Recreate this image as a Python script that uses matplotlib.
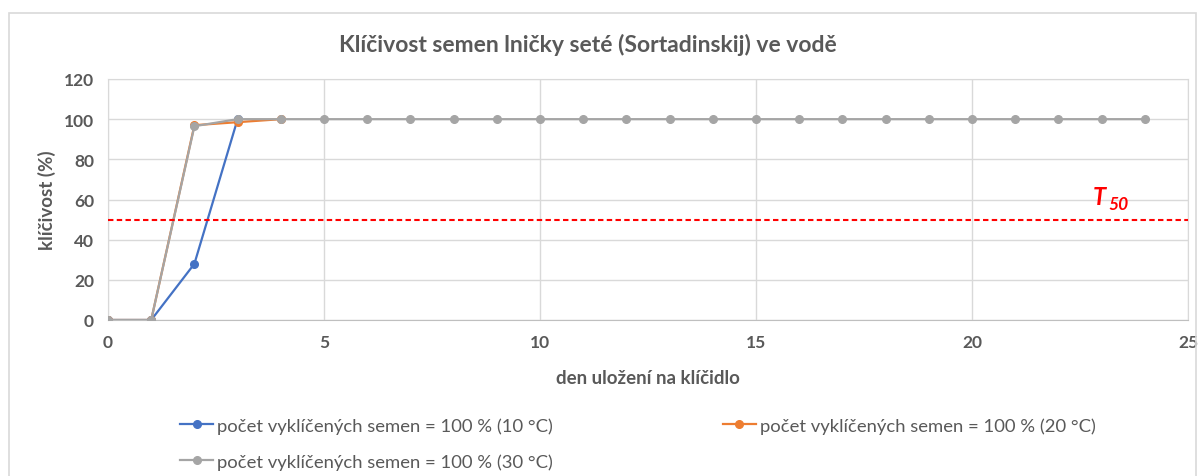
import matplotlib.pyplot as plt
from matplotlib.patches import Rectangle
from matplotlib.lines import Line2D

plt.rcParams['font.family'] = ['Lato', 'DejaVu Sans']

# ── data ─────────────────────────────────────────────────────────
days_10 = [0, 1, 2, 3]
germ_10 = [0, 0, 28, 100]
days_20 = [0, 1, 2, 3, 4]
germ_20 = [0, 0, 97, 98.5, 100]
days_30 = list(range(0, 25))
germ_30 = [0, 0, 96.5] + [100] * 22
labels = ["počet vyklíčených semen = 100 % (10 °C)",
          "počet vyklíčených semen = 100 % (20 °C)",
          "počet vyklíčených semen = 100 % (30 °C)"]
t50 = 50

C_BLUE = "#4472C4"
C_ORANGE = "#ED7D31"
C_GRAY = "#A5A5A5"
C_TEXT = "#595959"
C_GRID = "#D9D9D9"

fig = plt.figure(figsize=(12.04, 4.77), dpi=100)
ax = fig.add_axes([108 / 1204, 1 - 321 / 477, (1188 - 108) / 1204, (321 - 80) / 477])

# outer chart frame
fig.patches.append(Rectangle((9 / 1204, -0.05), (1196 - 9) / 1204, 1.05 - 14 / 477,
                             transform=fig.transFigure, fill=False,
                             edgecolor=C_GRID, lw=1.2))

ax.plot(days_10, germ_10, color=C_BLUE, lw=1.6, marker="o", ms=5.5, zorder=3)
ax.plot(days_20, germ_20, color=C_ORANGE, lw=1.6, marker="o", ms=5.5, zorder=4)
ax.plot(days_30, germ_30, color=C_GRAY, lw=1.6, marker="o", ms=5.5, zorder=5)

# T50 reference line
ax.axhline(t50, color="#FF0000", lw=1.5, ls=(0, (2.6, 1.6)), zorder=6)
ax.text(22.95, 61.5, "T", color="#FF0000", fontsize=17, fontweight="bold",
        fontstyle="italic", ha="center", va="center", zorder=7)
ax.text(23.4, 58.0, "50", color="#FF0000", fontsize=12.5, fontweight="bold",
        fontstyle="italic", ha="center", va="center", zorder=7)

ax.set_xlim(0, 25)
ax.set_ylim(0, 120)
ax.set_xticks(range(0, 26, 5))
ax.set_yticks(range(0, 121, 20))
ax.grid(True, color=C_GRID, lw=1)
ax.set_axisbelow(True)
for s in ax.spines.values():
    s.set_color(C_GRID)
ax.spines["bottom"].set_color("#BFBFBF")
ax.tick_params(length=0, labelsize=12.5, labelcolor=C_TEXT, pad=10)
for lab in ax.get_xticklabels() + ax.get_yticklabels():
    lab.set_fontweight("bold")

ax.set_xlabel("den uložení na klíčidlo", fontsize=13.5, fontweight="bold",
              color=C_TEXT, labelpad=14)
ax.set_ylabel("klíčivost (%)", fontsize=13.5, fontweight="bold",
              color=C_TEXT, labelpad=6)
fig.text(588 / 1204, 1 - 45 / 477, "Klíčivost semen lničky seté (Sortadinskij) ve vodě",
         fontsize=16.5, fontweight="bold", color=C_TEXT, ha="center", va="center")

handles = [Line2D([], [], color=c, lw=1.6, marker="o", ms=5.5)
           for c in (C_BLUE, C_GRAY, C_ORANGE)]
fig.legend(handles, [labels[0], labels[2], labels[1]], ncol=2,
           loc="upper left", bbox_to_anchor=(180 / 1204, 1 - 418 / 477),
           frameon=False, fontsize=13.3, labelcolor=C_TEXT, handlelength=1.8,
           handletextpad=0.2, columnspacing=9.2, labelspacing=1.05,
           borderpad=0, borderaxespad=0)

fig.savefig("out.png", dpi=100)
